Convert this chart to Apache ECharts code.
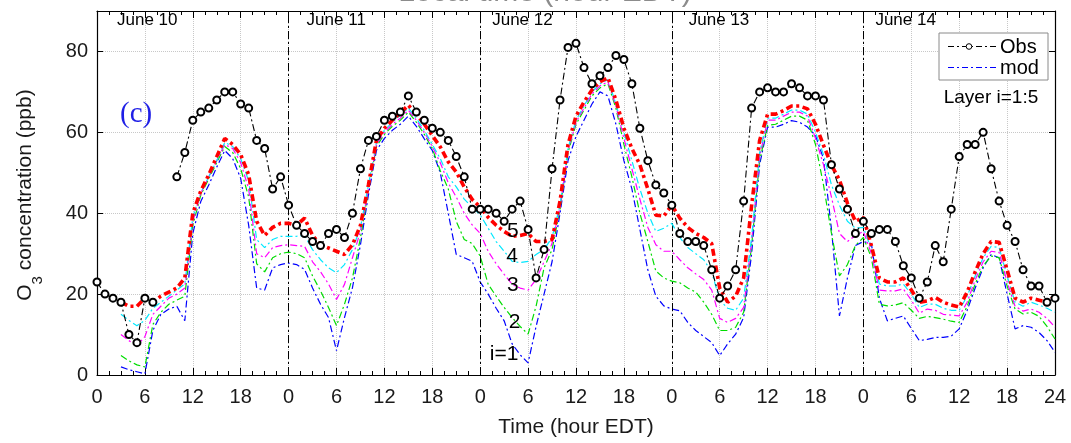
<!DOCTYPE html>
<html><head><meta charset="utf-8">
<script src="https://cdn.jsdelivr.net/npm/echarts@6/dist/echarts.min.js"></script>
<style>html,body{margin:0;padding:0;background:#fff}#c{width:1071px;height:443px}</style>
</head><body><div id="c"></div>
<script>
// Hourly values, index = hour since June 10 00:00 EDT (0..120)
const obs = [23,20,19,18,10,8,19,18,null,null,49,55,63,65,66,68,70,70,67,66,58,56,46,49,
  42,37,35,33,32,35,36,34,40,51,58,59,63,64,65,69,65,63,61,60,58,54,49,41,
  41,41,40,38,41,43,36,24,31,51,68,81,82,76,72,74,76,79,78,72,61,53,47,45,
  42,35,33,33,32,26,19,22,26,43,66,70,71,70,70,72,71,69,69,68,52,46,41,35,
  38,35,36,36,33,27,24,19,23,32,28,41,54,57,57,60,51,43,37,33,26,22,22,18,19];
const layer5 = [null,null,null,18,17,17,19,18,19.5,20.5,21.5,24,40,45.5,49.5,54,58.5,57,54.5,49.5,38,34.5,36.5,37.5,
  37.5,37,38.8,34.5,32.2,31.4,30.6,29.8,32.2,37,47,58,61,63,64.8,66.7,64.5,62,59.2,56.4,52.7,50.2,46.5,43.4,
  41.5,39,37,35.5,34.3,34.5,35,33,33,33.5,43,57,64,67.5,70.5,72.5,73.5,68,61,56,52,46,39.5,39.3,
  42,38.8,36.5,35,34,32.5,21.5,18,19.5,24,42,58,64.5,64.5,65.4,66.5,66.5,65.8,62,56.8,51.9,48.2,42.5,38,
  39,32,24,23,23,24,21,18,18.3,19.2,18,17.3,16.8,20.5,25.5,30,33,32.8,26,19,18,19,18.5,18,19.5];
const layer4 = [null,null,null,15,13.5,12.2,13.5,16.5,18,19.5,21,22.5,39,45,49,53,57.5,56.5,53.5,48,33.5,31.5,33.5,34.3,
  34.3,34.3,34.5,31,28.5,26.5,25.3,27.3,31,36.5,47,57.5,60.5,62.5,64.2,66,63.5,60.5,57,53.5,49,46.5,43.5,41.5,
  39.6,36.3,33,30.6,28.1,27.8,28.1,29.8,31,34,42,56,63,66.5,70,72,73,67,60,53,46,40,35.5,36.3,
  37.5,34,31.5,30,28.5,25.5,18.5,16.5,16,19,34,55,63.5,63.5,64.5,65.5,65.5,64.5,60,54.5,47,42,38,36.3,
  36.5,31,22.5,22,22,22.5,20,16.7,17.5,17.5,16.5,16,16,19.5,24.5,29,31.8,31.5,24.5,18,17,18,17.3,16.5,15.5];
const layer3 = [null,null,null,10,8.5,7.3,9.5,15,17,19,20,21.5,38,45,49,53,57,56,52.5,46,30,29,31.5,32,
  32.2,32,31.8,28,25.5,22.5,18.7,22.4,29,35.5,46,57,60,62,63.5,65.5,63,60,56.5,52.5,47.5,44,40,37.1,
  35,30.6,27.5,24.9,22.4,21.5,21,23.6,28,32.5,41.5,55.5,62.5,66,69.5,71.5,72.5,66.5,58.5,51,43.5,36.5,32.2,30.6,
  30.6,28.5,26.5,25,23.6,21,14,13,14,16.7,33,54,63,63,64,65,65,64,58.5,52,44,35,33,34.5,
  35.5,30,21,20.8,20.8,21.3,18.5,15.3,16.3,16,15,14.8,14.6,18,23.5,28,30.6,30.3,23,17,15.8,16.3,15.5,14,11.8];
const layer2 = [null,null,null,4.8,3.5,2.5,2,12.5,15.5,17.5,18.5,19.5,37,44.5,48.5,52.5,56.5,55,51,44,27.5,25.5,29,30,
  30.4,30,29,24.5,20.8,16.7,12.2,17.5,24,33.9,45.7,56.5,59.5,61.5,63,65,62.5,59.5,56,50.5,46,38,33.5,32.5,
  29.4,22.4,19.5,16.7,14.2,12,10.1,17,26.5,31,41,55,62,65.5,69,71,72,66,57,49,40,33,25.7,24,
  23.2,22.8,21.5,20.5,18,15,11,11,11.8,15.5,32,53,61.7,62,63,64,64,63,57,47,35,24.5,27.3,32,
  34,29,17.5,17.1,17.3,17.9,16,14,14.5,14.2,13.8,13.3,13,17,22.5,27,29.4,29,22,16.3,15.1,15.5,14.5,12,8.9];
const layer1 = [null,null,null,2,1.3,0.8,0.3,11,15,16.3,17,13.4,35,42.9,47,51.4,55.5,53.5,48.6,37,21.5,21,26.5,27.3,
  27.7,27.3,26.1,21.5,17.5,14.2,6,14.2,21.6,32.2,44.5,55.5,58.5,60.5,62,64,61.5,58.4,55.5,50,40,29.8,29,28.1,
  23,20,16.5,13.4,7.7,5,3,12,20,28,40,53,59,63,67,70,69,62,53,46,36,26,19.5,17.1,
  16.3,15.9,13,11,9.5,8,4.8,7.7,10.1,14.2,30,52,61.3,61.3,62,62.9,62.5,61.3,59.2,53.5,36,14.6,24,32,
  33,32.5,19,13.4,14,14.6,11.5,8.5,8.8,9.3,9.3,9.6,11.4,16,21.5,26.5,29.8,29,20,11.4,12.2,11.8,10.5,8.5,5.6];
const dayStarts = [0,24,48,72,96];
const dayNames = ['June 10','June 11','June 12','June 13','June 14'];
const dayBoundaries = [24,48,72,96];
const layerNames = ['i=1','2','3','4','5'];

const FONT = 'Liberation Sans, Arial, Helvetica, sans-serif';
const toPairs = arr => arr.map((v,i)=>[i,v]);
const chart = echarts.init(document.getElementById('c'), null, {renderer:'canvas'});

const layerColors = ['#0000ff','#00dd00','#ff00ff','#00e8ff','#ff0000'];
const layers = [layer1, layer2, layer3, layer4, layer5];
const modelSeries = layers.map((arr, k) => ({
  type:'line', name:'Layer ' + (k+1), data: toPairs(arr), showSymbol:false, symbol:'none',
  connectNulls:false, silent:true, z: 2 + k,
  lineStyle: k===4 ? {color:layerColors[k], width:3.6, type:[7,3.5,3,3.5]} : {color:layerColors[k], width:1.2, type:[7,3,2,3]}
}));

const axisTickStyle = {color:'#000', width:1};
const option = {
  animation:false,
  backgroundColor:'#fff',
  grid:{left:97, right:16, top:11, bottom:65, show:false},
  xAxis:[{
    type:'value', min:0, max:120, interval:6, position:'bottom',
    axisLine:{show:true, onZero:false, lineStyle:{color:'#000', width:1.2}},
    axisTick:{show:true, inside:true, length:7, lineStyle:axisTickStyle},
    minorTick:{show:true, splitNumber:4, length:4, lineStyle:axisTickStyle},
    axisLabel:{formatter:v => v===120 ? '24' : String(v%24), fontSize:20, color:'#1a1a1a', margin:12, fontFamily:FONT},
    splitLine:{show:true, lineStyle:{color:'#c8c8c8', type:'dotted', width:1}},
    name:'Time (hour EDT)', nameLocation:'middle', nameGap:42,
    nameTextStyle:{fontSize:21, color:'#1a1a1a', fontFamily:FONT}
  },{
    type:'value', min:0, max:120, interval:6, position:'top',
    axisLine:{show:true, onZero:false, lineStyle:{color:'#000', width:1.2}},
    axisTick:{show:true, inside:true, length:7, lineStyle:axisTickStyle},
    minorTick:{show:true, splitNumber:4, length:4, lineStyle:axisTickStyle},
    axisLabel:{show:false}, splitLine:{show:false}
  }],
  yAxis:[{
    type:'value', min:0, max:90, interval:20, position:'left',
    axisLine:{show:true, onZero:false, lineStyle:{color:'#000', width:1.2}},
    axisTick:{show:true, inside:true, length:6, lineStyle:axisTickStyle},
    axisLabel:{fontSize:20, color:'#1a1a1a', margin:9, fontFamily:FONT, showMaxLabel:false},
    splitLine:{show:true, lineStyle:{color:'#c8c8c8', type:'dotted', width:1}}
  },{
    type:'value', min:0, max:90, interval:20, position:'right',
    axisLine:{show:true, onZero:false, lineStyle:{color:'#000', width:1.2}},
    axisTick:{show:true, inside:true, length:6, lineStyle:axisTickStyle},
    axisLabel:{show:false}, splitLine:{show:false}
  }],
  series: modelSeries.concat([{
    type:'line', name:'Obs', data: toPairs(obs), connectNulls:false, z:10,
    symbol:'emptyCircle', symbolSize:7, showSymbol:true,
    itemStyle:{color:'#000', borderColor:'#000', borderWidth:1},
    lineStyle:{color:'#000', width:1.1, type:[7,3,2,3]},
    markLine:{silent:true, symbol:['none','none'], label:{show:false},
      lineStyle:{color:'#000', width:1, type:[8,3,2,3]},
      data: dayBoundaries.map(h => ({xAxis:h}))}
  }])
};
chart.setOption(option);

// annotations positioned via axis scales
const px = (h, v) => chart.convertToPixel({xAxisIndex:0, yAxisIndex:0}, [h, v]);
const dayOffsets = [20, 18, 12, 17, 12];
const graphics = [];
dayStarts.forEach((h, i) => {
  const p = px(h, 0);
  graphics.push({type:'text', x:p[0] + dayOffsets[i], y:20, style:{text:dayNames[i], fontSize:17, fill:'#000', fontFamily:FONT, verticalAlign:'middle', align:'left'}});
});
const layerLabelPos = [[51.0,5.2],[52.3,13.0],[52.1,22.1],[52.0,29.4],[52.1,35.6]];
layerNames.forEach((t, i) => {
  const p = px(layerLabelPos[i][0], layerLabelPos[i][1]);
  graphics.push({type:'text', x:p[0], y:p[1], z:50, style:{text:t, fontSize:21, fill:'#000', fontFamily:FONT, align:'center', verticalAlign:'middle'}});
});
const cPos = px(4.9, 64.5);
graphics.push({type:'text', x:cPos[0], y:cPos[1], style:{text:'(c)', fontSize:29, fill:'#1f1fe6', fontFamily:'Liberation Serif, Times New Roman, serif', align:'center', verticalAlign:'middle'}});
// cut-off heading (only its lower edge is visible)
graphics.push({type:'text', x:545, y:8, z:0, style:{text:'Local time (hour EDT)', fontSize:30, fill:'#8c8c8c', fontFamily:FONT, align:'center', verticalAlign:'bottom'}});
// legend box
graphics.push({type:'rect', shape:{x:939, y:33, width:109, height:47}, z:60, style:{fill:'#fff', stroke:'#8a8a8a', lineWidth:1}});
graphics.push({type:'line', shape:{x1:948, y1:46.5, x2:997, y2:46.5}, z:61, style:{stroke:'#000', lineWidth:1.1, lineDash:[6,3,2,3]}});
graphics.push({type:'circle', shape:{cx:969, cy:46.5, r:2.8}, z:62, style:{fill:'#fff', stroke:'#000', lineWidth:1}});
graphics.push({type:'text', x:1000, y:47, z:62, style:{text:'Obs', fontSize:20, fill:'#000', fontFamily:FONT, verticalAlign:'middle'}});
graphics.push({type:'line', shape:{x1:948, y1:67.5, x2:997, y2:67.5}, z:61, style:{stroke:'#0000ff', lineWidth:1.1, lineDash:[6,3,2,3]}});
graphics.push({type:'text', x:1000, y:68, z:62, style:{text:'mod', fontSize:20, fill:'#000', fontFamily:FONT, verticalAlign:'middle'}});
graphics.push({type:'text', x:991, y:98, z:62, style:{text:'Layer i=1:5', fontSize:19, fill:'#000', fontFamily:FONT, align:'center', verticalAlign:'middle'}});
// y axis title with subscript
graphics.push({type:'text', x:30, y:195, rotation:Math.PI/2, z:62, style:{
  text:'{a|O}{s|3}{a| concentration (ppb)}', align:'center', verticalAlign:'middle',
  rich:{a:{fontSize:21, fontFamily:FONT, fill:'#1a1a1a', lineHeight:22, verticalAlign:'top'},
        s:{fontSize:15, fontFamily:FONT, fill:'#1a1a1a', lineHeight:31, verticalAlign:'bottom'}}}});
chart.setOption({graphic:graphics});
</script></body></html>
